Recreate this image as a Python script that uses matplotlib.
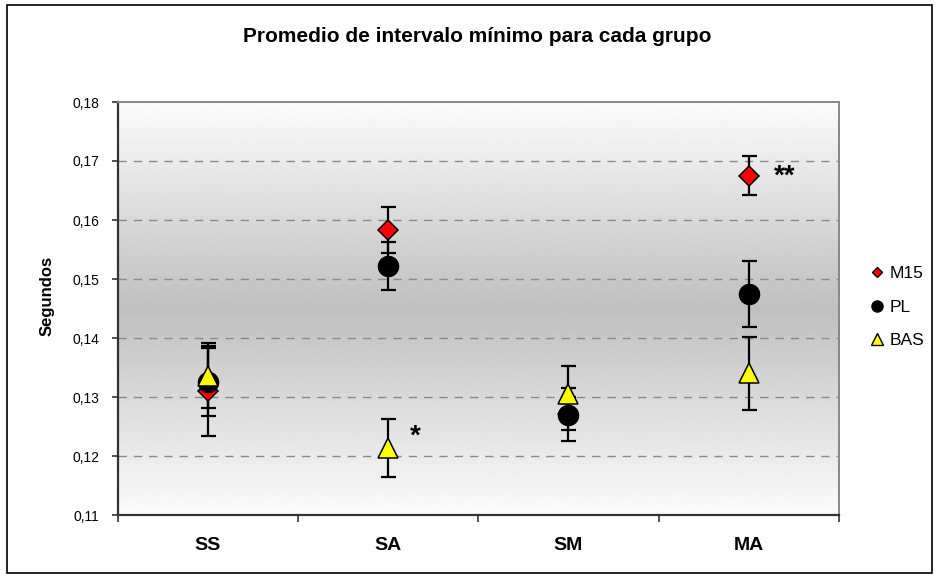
import numpy as np
import matplotlib
matplotlib.use("Agg")
import matplotlib.pyplot as plt
from matplotlib.lines import Line2D
from matplotlib.patches import Rectangle
from matplotlib.ticker import FuncFormatter

plt.rcParams["font.family"] = ["Liberation Sans", "DejaVu Sans"]

# Group labels and series (mean, error) per group
groups = ["SS", "SA", "SM", "MA"]
m15 = [0.131, 0.1583, 0.1272, 0.1675]
m15_err = [0.0076, 0.0039, 0.0028, 0.0033]
pl = [0.1325, 0.1522, 0.1270, 0.1475]
pl_err = [0.0058, 0.0041, 0.0045, 0.0056]
bas = [0.1336, 0.1214, 0.1305, 0.1340]
bas_err = [0.0055, 0.0049, 0.0048, 0.0062]
y_ticks = [0.11, 0.12, 0.13, 0.14, 0.15, 0.16, 0.17, 0.18]

fig = plt.figure(figsize=(9.39, 5.79), dpi=100)
fig.patch.set_facecolor("white")

W, H = 939, 579
ax = fig.add_axes([117.5 / W, 1 - 515 / H, (839 - 117.5) / W, (515 - 102) / H])

x = np.arange(len(groups))
ax.set_xlim(-0.5, len(groups) - 0.5)
ax.set_ylim(y_ticks[0], y_ticks[-1])

# vertical gradient: light at the edges, grey in the middle
t = np.linspace(0, 1, 256)
shade = 0.985 - 0.235 * (1 - np.abs(2 * t - 1))
ax.imshow(shade[:, None], aspect="auto", cmap="gray", vmin=0, vmax=1,
          extent=[-0.5, len(groups) - 0.5, y_ticks[0], y_ticks[-1]],
          origin="lower", zorder=0, interpolation="bilinear")

for yv in y_ticks[1:-1]:
    ax.axhline(yv, color="#8a8a8a", lw=1.0, ls=(0, (6, 5)), zorder=1)

series = [
    ("M15", m15, m15_err, dict(marker="D", ms=10.5, mfc="#ff0000", mec="black", mew=1.1)),
    ("PL", pl, pl_err, dict(marker="o", ms=14.5, mfc="black", mec="black", mew=1.0)),
    ("BAS", bas, bas_err, dict(marker="^", ms=15, mfc="#ffff00", mec="black", mew=1.1)),
]

for name, vals, errs, style in series:
    ax.errorbar(x, vals, yerr=errs, fmt="none", ecolor="black", elinewidth=1.6,
                capsize=5.4, capthick=1.6, zorder=3)
for i, (name, vals, errs, style) in enumerate(series):
    ax.plot(x, vals, ls="none", zorder=4 + i, **style)

# significance marks
ax.text(1.15, 0.1233, "*", fontsize=20, fontweight="bold", ha="center", va="center")
ax.text(3.2, 0.1673, "**", fontsize=20, fontweight="bold", ha="center", va="center")

# axes styling
for side in ("left", "bottom"):
    ax.spines[side].set_color("#333333")
    ax.spines[side].set_linewidth(1.6)
for side in ("top", "right"):
    ax.spines[side].set_color("#888888")
    ax.spines[side].set_linewidth(1.4)

ax.set_yticks(y_ticks)
ax.yaxis.set_major_formatter(FuncFormatter(lambda v, p: f"{v:.2f}".replace(".", ",")))
ax.tick_params(axis="y", direction="out", length=4, width=1.2, color="#333333",
               labelsize=10, pad=9)
ax.set_xticks(x)
ax.set_xticklabels(groups, fontsize=14, fontweight="bold")
ax.set_xticks(np.arange(-0.5, len(groups), 1.0), minor=True)
ax.tick_params(axis="x", which="major", length=0, pad=16)
ax.tick_params(axis="x", which="minor", direction="out", length=5, width=1.2,
               color="#333333")

fig.text(47 / W, 1 - 296 / H, "Segundos", rotation=90, ha="center", va="center",
         fontsize=12, fontweight="bold")

fig.text(477.5 / W, 1 - 37 / H, "Promedio de intervalo mínimo para cada grupo",
         ha="center", va="center", fontsize=15, fontweight="bold")

handles = [
    Line2D([], [], ls="none", marker="D", ms=5, mfc="#ff0000", mec="black", mew=1.0),
    Line2D([], [], ls="none", marker="o", ms=8, mfc="black", mec="black"),
    Line2D([], [], ls="none", marker="^", ms=8, mfc="#ffff00", mec="black", mew=1.0),
]
fig.legend(handles, [s[0] for s in series], loc="center left",
           bbox_to_anchor=(861 / W, 1 - 307 / H), frameon=False, fontsize=12.5,
           handlelength=0.8, handletextpad=0.35, labelspacing=1.05, borderpad=0)

# outer frame
fig.patches.append(Rectangle((7 / W, 1 - 573 / H), (932 - 7) / W, (573 - 5) / H,
                             transform=fig.transFigure, fill=False,
                             edgecolor="black", lw=1.2))

fig.savefig("out.png", dpi=100)
